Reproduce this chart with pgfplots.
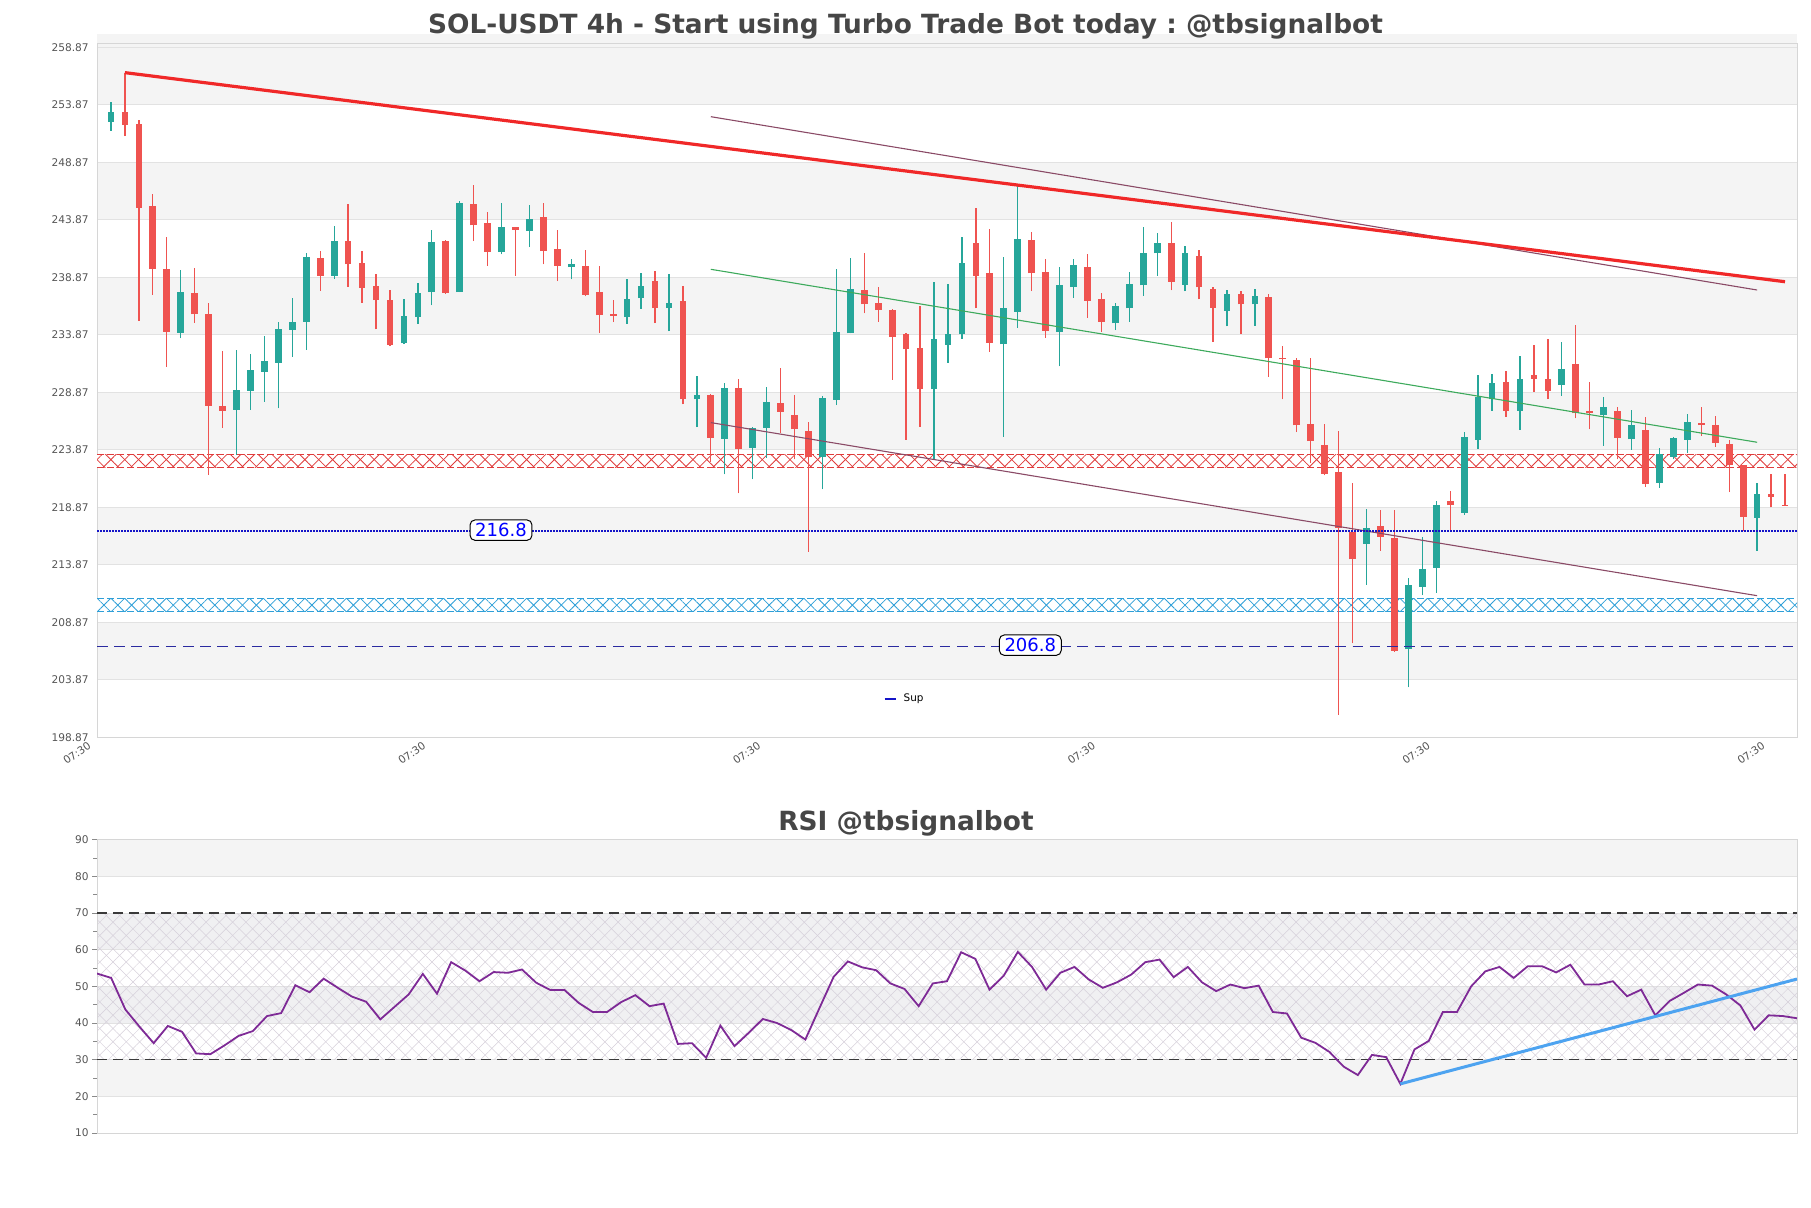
\documentclass[border=0pt]{standalone}
\usepackage{fontspec}
\setmainfont{DejaVu Sans}
\usepackage{pgfplots}
\pgfplotsset{compat=1.18}
\usepackage{pgfplotstable}
\usetikzlibrary{patterns.meta}
\frenchspacing

\definecolor{cup}{HTML}{26A69A}
\definecolor{cdn}{HTML}{EF5350}
\definecolor{bandc}{HTML}{F4F4F4}
\definecolor{lavc}{HTML}{F0F0F2}
\definecolor{gridc}{HTML}{E2E2E2}
\definecolor{axisc}{HTML}{D6D6D6}
\definecolor{tickmc}{HTML}{8A8A8A}
\definecolor{tickc}{HTML}{555555}
\definecolor{titlec}{HTML}{464646}
\definecolor{trendred}{HTML}{F02828}
\definecolor{maroonl}{HTML}{8A4A66}
\definecolor{tgreen}{HTML}{3DAA5C}
\definecolor{hatchred}{HTML}{E03C3C}
\definecolor{hatchblue}{HTML}{2E9FD8}
\definecolor{supblue}{HTML}{1414C8}
\definecolor{resnavy}{HTML}{2A2AA0}
\definecolor{rsic}{HTML}{7E2A96}
\definecolor{rsiline}{HTML}{4DA3F0}
\definecolor{hatchp}{HTML}{D6D0DA}
\definecolor{dashc}{HTML}{3A3A3A}

\newcommand{\tickfont}{\fontsize{5.3}{6}\selectfont}
\newcommand{\titlefont}{\fontsize{13.2}{15}\selectfont\bfseries}

% candles: i open high low close
\pgfplotstableread{
i o h l c
1 252.42 254.13 251.64 253.29
6 234.07 239.52 233.58 237.58
10 227.35 232.57 223.43 229.09
11 229.00 232.22 227.35 230.83
12 230.68 233.78 228.07 231.61
13 231.46 235.03 227.49 234.39
14 234.31 237.06 231.99 234.97
15 235.03 241.03 232.57 240.65
17 239.00 243.35 238.74 242.04
22 233.14 236.97 233.09 235.52
23 235.42 238.38 234.84 237.54
24 237.60 242.96 236.44 241.94
26 237.60 245.51 237.60 245.33
29 241.07 245.33 240.87 243.30
31 242.90 245.13 241.51 243.97
34 239.77 240.49 238.70 240.00
38 235.42 238.70 234.84 237.04
39 237.07 239.28 236.14 238.17
41 236.20 239.13 234.20 236.64
43 228.26 230.26 225.86 228.61
45 224.86 229.67 221.75 229.29
47 224.07 225.90 221.32 225.81
48 225.81 229.38 223.20 228.07
52 223.29 228.57 220.45 228.42
53 228.22 239.64 227.78 234.16
54 234.01 240.60 234.01 237.84
60 229.15 238.51 223.06 233.49
61 233.00 238.28 231.46 233.93
62 233.93 242.42 233.55 240.10
65 233.06 240.68 225.03 236.19
66 235.87 246.97 234.51 242.25
69 234.13 239.81 231.14 238.19
70 238.04 240.45 237.11 239.93
73 234.88 236.62 234.30 236.39
74 236.19 239.38 235.00 238.28
75 238.19 243.29 237.26 240.97
76 240.97 242.70 239.00 241.84
78 238.25 241.64 237.69 241.00
81 235.96 237.75 234.62 237.41
83 236.54 237.84 234.65 237.26
91 215.70 218.74 212.13 217.12
94 206.54 212.71 203.23 212.13
95 211.97 216.28 211.26 213.49
96 213.64 219.44 211.46 219.09
98 218.42 225.41 218.22 225.03
99 224.74 230.39 223.96 228.51
100 228.28 230.48 227.29 229.67
102 227.29 232.04 225.61 230.04
105 229.52 233.23 228.59 230.91
108 226.91 228.45 224.25 227.64
110 224.80 227.35 223.87 226.04
112 221.03 224.02 220.59 223.52
113 223.29 224.97 223.06 224.88
114 224.74 227.00 223.64 226.33
119 217.99 221.03 215.12 220.04
}\up

\pgfplotstableread{
i o h l c
2 253.29 256.68 251.17 252.13
3 252.22 252.57 235.09 244.94
4 245.12 246.13 237.35 239.61
5 239.61 242.42 231.12 234.16
7 237.49 239.67 234.94 235.67
8 235.70 236.62 221.70 227.73
9 227.70 232.48 225.81 227.29
16 240.54 241.20 237.72 239.03
18 242.04 245.26 238.07 240.01
19 240.10 241.17 236.68 237.99
20 238.13 239.17 234.36 236.91
21 236.91 237.78 232.91 233.00
25 242.03 242.17 237.45 237.54
27 245.22 246.87 242.03 243.39
28 243.60 244.52 239.91 241.07
30 243.30 243.30 239.04 243.02
32 244.17 245.33 240.00 241.16
33 241.36 242.96 238.55 239.91
35 239.91 241.22 237.22 237.36
36 237.57 239.91 234.03 235.57
37 235.65 236.87 234.99 235.54
40 238.52 239.39 234.90 236.20
42 236.78 238.17 227.83 228.26
44 228.65 228.75 222.80 224.95
46 229.29 230.01 220.10 223.93
49 227.99 231.03 225.38 227.20
50 226.94 228.62 223.06 225.67
51 225.52 226.30 215.00 223.29
55 237.75 240.97 235.75 236.54
56 236.68 238.00 235.00 236.04
57 236.01 236.16 229.96 233.70
58 233.93 234.07 224.74 232.62
59 232.77 236.39 225.87 229.15
63 241.84 244.88 236.19 239.00
64 239.23 243.06 232.39 233.20
67 242.10 242.86 237.69 239.23
68 239.38 240.51 233.64 234.22
71 239.81 240.88 235.38 236.83
72 236.97 237.49 234.13 235.00
77 241.84 243.72 237.75 238.48
79 240.77 241.26 236.97 238.00
80 237.84 238.00 233.29 236.22
82 237.41 237.70 233.99 236.54
84 237.17 237.41 230.22 231.84
85 231.90 232.91 228.28 231.75
86 231.67 231.90 225.43 226.01
87 226.10 231.84 222.75 224.65
88 224.28 226.15 221.67 221.81
89 221.93 225.52 200.83 217.12
90 216.71 221.03 207.06 214.36
92 217.29 218.65 215.12 216.33
93 216.19 218.65 206.33 206.42
97 219.41 220.30 216.91 219.06
101 229.81 230.74 226.77 227.29
103 230.39 232.99 228.94 230.07
104 230.04 233.52 228.30 229.03
106 231.35 234.74 226.62 227.06
107 227.29 229.81 225.67 227.06
109 227.29 227.58 223.06 224.94
111 225.61 226.77 220.68 220.91
115 226.19 227.58 225.09 226.04
116 226.04 226.80 224.16 224.51
117 224.39 224.74 220.20 222.57
118 222.57 222.57 216.86 218.07
120 220.04 221.78 218.88 219.81
121 219.10 221.78 218.99 219.00
}\down

\pgfplotstableread{
k v
0 53.5
1 52.3
2 43.7
3 39.0
4 34.5
5 39.2
6 37.6
7 31.7
8 31.5
9 33.9
10 36.5
11 37.8
12 41.9
13 42.7
14 50.3
15 48.4
16 52.1
17 49.6
18 47.2
19 45.8
20 41.0
21 44.4
22 47.8
23 53.4
24 48.0
25 56.6
26 54.3
27 51.4
28 53.9
29 53.7
30 54.6
31 51.0
32 49.0
33 49.0
34 45.5
35 43.0
36 43.0
37 45.7
38 47.6
39 44.6
40 45.3
41 34.3
42 34.5
43 30.5
44 39.3
45 33.7
46 37.3
47 41.1
48 40.0
49 38.1
50 35.5
51 44.1
52 52.6
53 56.8
54 55.2
55 54.4
56 50.8
57 49.3
58 44.6
59 50.8
60 51.4
61 59.3
62 57.5
63 49.1
64 52.9
65 59.4
66 55.3
67 49.1
68 53.7
69 55.3
70 51.9
71 49.6
72 51.1
73 53.2
74 56.6
75 57.3
76 52.5
77 55.3
78 51.1
79 48.7
80 50.5
81 49.5
82 50.2
83 43.0
84 42.6
85 36.0
86 34.6
87 32.1
88 28.1
89 25.8
90 31.3
91 30.7
92 23.4
93 32.8
94 35.1
95 43.0
96 43.0
97 50.0
98 54.1
99 55.3
100 52.3
101 55.5
102 55.5
103 53.8
104 55.9
105 50.5
106 50.5
107 51.4
108 47.3
109 49.1
110 42.1
111 46.0
112 48.2
113 50.5
114 50.2
115 47.8
116 44.8
117 38.2
118 42.1
119 41.9
120 41.3
}\rsi

\pgfplotsset{
  chartbase/.style={
    scale only axis, width=850pt, set layers,
    axis line style={draw=axisc, line width=0.5pt},
    tick style={draw=tickmc, line width=0.4pt},
    tick align=outside, major tick length=2.3pt, minor tick length=2pt,
    tick pos=left,
    ticklabel style={font=\tickfont, text=tickc},
    ymajorgrids, grid style={draw=gridc, line width=0.5pt},
  },
}
% #1 low, #2 high, #3 colour, #4 xmax
\newcommand{\hband}[4]{\addplot[on layer=axis background, fill=#3, draw=none, forget plot] coordinates {(0,#1) (#4,#1) (#4,#2) (0,#2)} -- cycle;}
\newcommand{\hatchband}[4]{%
  \addplot[fill=white, draw=none, forget plot] coordinates {(0,#1) (#4,#1) (#4,#2) (0,#2)} -- cycle;
  \addplot[pattern={Lines[angle=45,distance=4.9pt,line width=0.4pt]}, pattern color=#3, draw=none, forget plot] coordinates {(0,#1) (#4,#1) (#4,#2) (0,#2)} -- cycle;
  \addplot[pattern={Lines[angle=-45,distance=4.9pt,line width=0.4pt]}, pattern color=#3, draw=none, forget plot] coordinates {(0,#1) (#4,#1) (#4,#2) (0,#2)} -- cycle;
  \addplot[#3, line width=0.5pt, dash pattern=on 3.5pt off 1.5pt, forget plot] coordinates {(0,#1) (#4,#1)};
  \addplot[#3, line width=0.5pt, dash pattern=on 3.5pt off 1.5pt, forget plot] coordinates {(0,#2) (#4,#2)};
}

\begin{document}
\begin{tikzpicture}
\node[anchor=base, font=\titlefont, text=titlec, inner sep=0pt] at (452.75pt,-16.75pt) {SOL-USDT 4h - Start using Turbo Trade Bot today : @tbsignalbot};

\begin{axis}[chartbase,
  at={(48.5pt,-368.75pt)}, anchor=south west, height=346.75pt,
  xmin=0, xmax=121.86, ymin=198.87, ymax=259.17,
  major tick length=0pt, tick style={draw=none},
  ytick={198.87,203.87,208.87,213.87,218.87,223.87,228.87,233.87,238.87,243.87,248.87,253.87,258.87},
  yticklabels={198.87,203.87,208.87,213.87,218.87,223.87,228.87,233.87,238.87,243.87,248.87,253.87,258.87},
  yticklabel style={xshift=-0.6pt},
  xtick={0,24,48,72,96,120},
  xticklabels={07:30,07:30,07:30,07:30,07:30,07:30},
  xticklabel style={rotate=35, anchor=north east, inner sep=1pt, xshift=-3.8pt, yshift=2.6pt},
  legend style={at={(0.4625,0.056)}, anchor=west, draw=none, fill=none,
    font=\fontsize{5.2}{6}\selectfont, inner sep=0pt, column sep=1.5pt},
  legend image code/.code={\draw[#1] (0pt,0pt) -- (5.5pt,0pt);},
]
\addlegendimage{supblue, line width=1pt}
\addlegendentry{Sup}

\hband{253.87}{260}{bandc}{121.86}
\hband{243.87}{248.87}{bandc}{121.86}
\hband{233.87}{238.87}{bandc}{121.86}
\hband{223.87}{228.87}{bandc}{121.86}
\hband{213.87}{218.87}{bandc}{121.86}
\hband{203.87}{208.87}{bandc}{121.86}

\hatchband{222.36}{223.49}{hatchred}{121.86}
\hatchband{209.81}{210.97}{hatchblue}{121.86}

% wicks
\addplot[draw=none, forget plot, error bars/.cd, y dir=plus, y explicit, error mark=none,
  error bar style={draw=cup, solid, line width=0.65pt}]
  table[x=i, y=l, y error expr=\thisrow{h}-\thisrow{l}] {\up};
\addplot[draw=none, forget plot, error bars/.cd, y dir=plus, y explicit, error mark=none,
  error bar style={draw=cdn, solid, line width=0.65pt}]
  table[x=i, y=l, y error expr=\thisrow{h}-\thisrow{l}] {\down};
% bodies
\addplot[draw=none, forget plot, error bars/.cd, y dir=plus, y explicit, error mark=none,
  error bar style={draw=cup, solid, line width=3.35pt}]
  table[x=i, y=o, y error expr={max(\thisrow{c}-\thisrow{o},0.12)}] {\up};
\addplot[draw=none, forget plot, error bars/.cd, y dir=plus, y explicit, error mark=none,
  error bar style={draw=cdn, solid, line width=3.35pt}]
  table[x=i, y=c, y error expr={max(\thisrow{o}-\thisrow{c},0.12)}] {\down};

% trend lines
\addplot[maroonl, line width=0.55pt, forget plot] coordinates {(44,252.85) (119,237.78)};
\addplot[maroonl, line width=0.55pt, forget plot] coordinates {(44,226.25) (119,211.20)};
\addplot[tgreen, line width=0.55pt, forget plot] coordinates {(44,239.58) (119,224.54)};
\addplot[trendred, line width=1.6pt, forget plot] coordinates {(2,256.68) (121,238.50)};

% support / resistance levels
\addplot[supblue, line width=1pt, dash pattern=on 0.8pt off 0.7pt, forget plot] coordinates {(0,216.8) (121.86,216.8)};
\addplot[resnavy, line width=0.6pt, dash pattern=on 5.3pt off 3.3pt, forget plot] coordinates {(0,206.8) (121.86,206.8)};

\node[draw=black, fill=white, rounded corners=2.5pt, text=blue, font=\fontsize{9}{10}\selectfont,
  inner xsep=2.6pt, inner ysep=1.7pt, line width=0.5pt] at (axis cs:28.96,216.9) {216.8};
\node[draw=black, fill=white, rounded corners=2.5pt, text=blue, font=\fontsize{9}{10}\selectfont,
  inner xsep=2.6pt, inner ysep=1.7pt, line width=0.5pt] at (axis cs:66.9,206.9) {206.8};
\end{axis}

\node[anchor=base, font=\titlefont, text=titlec, inner sep=0pt] at (453pt,-415.25pt) {RSI @tbsignalbot};

\begin{axis}[chartbase,
  at={(48.5pt,-566.5pt)}, anchor=south west, height=146.65pt,
  xmin=0, xmax=120, ymin=10, ymax=90,
  ytick={10,20,30,40,50,60,70,80,90},
  yticklabels={10,20,30,40,50,60,70,80,90},
  yticklabel style={xshift=1.7pt},
  minor ytick={15,25,35,45,55,65,75,85},
  xtick=\empty,
]
\hband{80}{90}{bandc}{120}
\hband{60}{70}{lavc}{120}
\hband{40}{50}{lavc}{120}
\hband{20}{30}{bandc}{120}
\addplot[pattern={Lines[angle=45,distance=4.7pt,line width=0.25pt]}, pattern color=hatchp, draw=none, forget plot] coordinates {(0,30) (120,30) (120,70) (0,70)} -- cycle;
\addplot[pattern={Lines[angle=-45,distance=4.7pt,line width=0.25pt]}, pattern color=hatchp, draw=none, forget plot] coordinates {(0,30) (120,30) (120,70) (0,70)} -- cycle;
\addplot[dashc, line width=0.6pt, dash pattern=on 5pt off 3pt, forget plot] coordinates {(0,70) (120,70)};
\addplot[dashc, line width=0.65pt, dash pattern=on 5pt off 3pt, forget plot] coordinates {(0,30.05) (120,30.05)};
\addplot[rsic, line width=0.9pt, forget plot] table[x=k, y=v] {\rsi};
\addplot[rsiline, line width=1.5pt, forget plot] coordinates {(92,23.4) (120,52.0)};
\end{axis}
\pgfresetboundingbox
\useasboundingbox (0pt,0pt) rectangle (905.5pt,-604pt);
\end{tikzpicture}
\end{document}
